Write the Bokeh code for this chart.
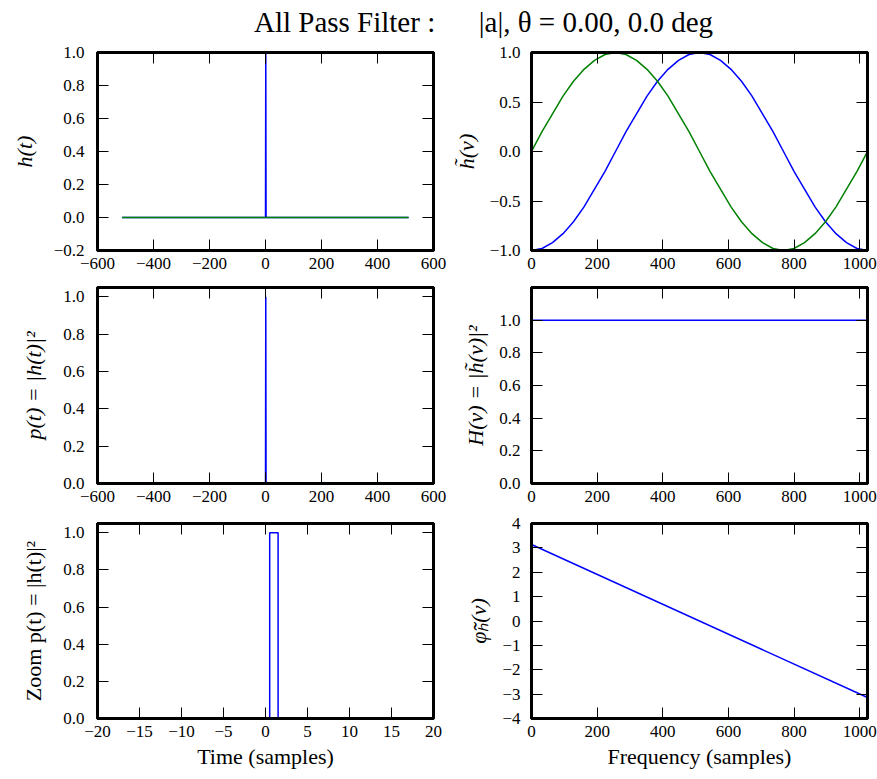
from bokeh.plotting import figure
from bokeh.models import LinearAxis, FixedTicker, CustomJSTickFormatter, Range1d, Label
from bokeh.layouts import column, gridplot
from bokeh.embed import file_html
from bokeh.resources import INLINE

# ---------------- data ----------------
T_SAMPLES = [-512, 0, 1, 2, 511]
H_REAL = [0.0, 0.0, 1.0, 0.0, 0.0]
H_IMAG = [0.0, 0.0, 0.0, 0.0, 0.0]
P_T = [0.0, 0.0, 1.0, 0.0, 0.0]

NU = [0, 32, 64, 96, 128, 160, 192, 224, 256, 288, 320, 352, 384, 416, 448, 480,
      512, 544, 576, 608, 640, 672, 704, 736, 768, 800, 832, 864, 896, 928, 960, 992, 1024]
HNU_REAL = [-1.00, -0.98, -0.92, -0.83, -0.71, -0.56, -0.38, -0.20, 0.00, 0.20, 0.38,
            0.56, 0.71, 0.83, 0.92, 0.98, 1.00, 0.98, 0.92, 0.83, 0.71, 0.56, 0.38,
            0.20, 0.00, -0.20, -0.38, -0.56, -0.71, -0.83, -0.92, -0.98, -1.00]
HNU_IMAG = [0.00, 0.20, 0.38, 0.56, 0.71, 0.83, 0.92, 0.98, 1.00, 0.98, 0.92, 0.83,
            0.71, 0.56, 0.38, 0.20, 0.00, -0.20, -0.38, -0.56, -0.71, -0.83, -0.92,
            -0.98, -1.00, -0.98, -0.92, -0.83, -0.71, -0.56, -0.38, -0.20, 0.00]

NU_ENDS = [0, 1024]
H_POWER = [1.0, 1.0]
PHASE = [3.14, -3.14]

TITLE = "All Pass Filter :\u00a0\u00a0\u00a0\u00a0\u00a0 |a|, \u03b8 = 0.00, 0.0 deg"

X_TICKS_TIME = [-600, -400, -200, 0, 200, 400, 600]
X_LABELS_TIME = ["\u2212600", "\u2212400", "\u2212200", "0", "200", "400", "600"]
X_TICKS_FREQ = [0, 200, 400, 600, 800, 1000]
X_LABELS_FREQ = ["0", "200", "400", "600", "800", "1000"]
X_TICKS_ZOOM = [-20, -15, -10, -5, 0, 5, 10, 15, 20]
X_LABELS_ZOOM = ["\u221220", "\u221215", "\u221210", "\u22125", "0", "5", "10", "15", "20"]

Y_TICKS_HT = [-0.2, 0.0, 0.2, 0.4, 0.6, 0.8, 1.0]
Y_LABELS_HT = ["\u22120.2", "0.0", "0.2", "0.4", "0.6", "0.8", "1.0"]
Y_TICKS_HNU = [-1.0, -0.5, 0.0, 0.5, 1.0]
Y_LABELS_HNU = ["\u22121.0", "\u22120.5", "0.0", "0.5", "1.0"]
Y_TICKS_P = [0.0, 0.2, 0.4, 0.6, 0.8, 1.0]
Y_LABELS_P = ["0.0", "0.2", "0.4", "0.6", "0.8", "1.0"]
Y_TICKS_PH = [-4, -3, -2, -1, 0, 1, 2, 3, 4]
Y_LABELS_PH = ["\u22124", "\u22123", "\u22122", "\u22121", "0", "1", "2", "3", "4"]

FONT = "Liberation Serif"
BLUE = "#0000ff"
GREEN = "#008000"

FMT_CODE = """
let best = 0;
for (let i = 0; i < vals.length; i++) {
  if (Math.abs(vals[i] - tick) < Math.abs(vals[best] - tick)) best = i;
}
return labs[best];
"""


def fmt(vals, labs):
    return CustomJSTickFormatter(args=dict(vals=vals, labs=labs), code=FMT_CODE)


def style_axis(ax, show, label_standoff=8, tick_standoff=8):
    ax.axis_line_color = "black"
    ax.axis_line_width = 3
    ax.major_tick_in = 11
    ax.major_tick_out = 0
    ax.minor_tick_line_color = None
    ax.major_tick_line_color = "black"
    ax.major_tick_line_width = 1
    if show:
        ax.major_label_text_font = FONT
        ax.major_label_text_font_size = "17px"
        ax.major_label_text_color = "black"
        ax.major_label_standoff = tick_standoff
        ax.axis_label_text_font = FONT
        ax.axis_label_text_font_size = "22px"
        ax.axis_label_text_font_style = "normal"
        ax.axis_label_text_color = "black"
        ax.axis_label_standoff = label_standoff
    else:
        ax.major_label_text_font_size = "0px"
        ax.major_label_standoff = 0


def panel(xr, yr, xt, xl, yt, yl, borders, fh, fw, ylabel=None, ylabel_italic=True,
          xlabel=None, ystand=16, ytick_stand=13):
    left, right, top, bottom = borders
    p = figure(frame_width=fw, frame_height=fh,
               x_range=Range1d(*xr), y_range=Range1d(*yr),
               x_axis_type=None, y_axis_type=None,
               min_border_left=left, min_border_right=right,
               min_border_top=top, min_border_bottom=bottom,
               output_backend="svg", toolbar_location=None)
    p.outline_line_color = "black"
    p.outline_line_width = 3
    p.background_fill_color = "white"
    p.border_fill_color = "white"

    bx = LinearAxis(ticker=FixedTicker(ticks=xt), formatter=fmt(xt, xl))
    style_axis(bx, True, label_standoff=4, tick_standoff=7)
    if xlabel:
        bx.axis_label = xlabel
    p.add_layout(bx, "below")
    ax_top = LinearAxis(ticker=FixedTicker(ticks=xt), formatter=fmt(xt, [""] * len(xt)))
    style_axis(ax_top, False)
    p.add_layout(ax_top, "above")

    ly = LinearAxis(ticker=FixedTicker(ticks=yt), formatter=fmt(yt, yl))
    style_axis(ly, True, label_standoff=ystand, tick_standoff=ytick_stand)
    if ylabel:
        ly.axis_label = ylabel
        ly.axis_label_text_font_style = "italic" if ylabel_italic else "normal"
    p.add_layout(ly, "left")
    ry = LinearAxis(ticker=FixedTicker(ticks=yt), formatter=fmt(yt, [""] * len(yt)))
    style_axis(ry, False)
    p.add_layout(ry, "right")
    return p


LB = (97, 14)   # left column: left / right borders
RB = (84, 10)   # right column
FW_L, FW_R = 336, 336

# row 1
p1 = panel((-600, 600), (-0.2, 1.0), X_TICKS_TIME, X_LABELS_TIME, Y_TICKS_HT, Y_LABELS_HT,
           (LB[0], LB[1], 12, 32), 198, FW_L, ylabel="h(t)", ystand=14)
p1.line(T_SAMPLES, H_REAL, line_color=BLUE, line_width=1.5)
p1.line(T_SAMPLES, H_IMAG, line_color=GREEN, line_width=1.5)

p2 = panel((0, 1024), (-1.0, 1.0), X_TICKS_FREQ, X_LABELS_FREQ, Y_TICKS_HNU, Y_LABELS_HNU,
           (RB[0], RB[1], 12, 32), 198, FW_R, ylabel="h\u0303(\u03bd)", ystand=8, ytick_stand=11)
p2.line(NU, HNU_REAL, line_color=BLUE, line_width=1.5)
p2.line(NU, HNU_IMAG, line_color=GREEN, line_width=1.5)

# row 2
p3 = panel((-600, 600), (0.0, 1.05), X_TICKS_TIME, X_LABELS_TIME, Y_TICKS_P, Y_LABELS_P,
           (LB[0], LB[1], 5, 30), 196, FW_L, ylabel="p(t) = |h(t)|\u00b2", ystand=14)
p3.line(T_SAMPLES, P_T, line_color=BLUE, line_width=1.5)

p4 = panel((0, 1024), (0.0, 1.2), X_TICKS_FREQ, X_LABELS_FREQ, Y_TICKS_P, Y_LABELS_P,
           (RB[0], RB[1], 5, 30), 196, FW_R, ylabel="H(\u03bd) = |h\u0303(\u03bd)|\u00b2",
           ystand=8, ytick_stand=11)
p4.line(NU_ENDS, H_POWER, line_color=BLUE, line_width=1.5)

# row 3
p5 = panel((-20, 20), (0.0, 1.05), X_TICKS_ZOOM, X_LABELS_ZOOM, Y_TICKS_P, Y_LABELS_P,
           (LB[0], LB[1], 10, 61), 195, FW_L, ylabel="Zoom p(t) = |h(t)|\u00b2",
           ylabel_italic=False, xlabel="Time (samples)", ystand=14)
p5.step(T_SAMPLES, P_T, mode="center", line_color=BLUE, line_width=1.5)

p6 = panel((0, 1024), (-4, 4), X_TICKS_FREQ, X_LABELS_FREQ, Y_TICKS_PH, Y_LABELS_PH,
           (RB[0], RB[1], 10, 61), 195, FW_R, ylabel="\u03c6\u2095\u0303(\u03bd)",
           xlabel="Frequency (samples)", ystand=8, ytick_stand=11)
p6.line(NU_ENDS, PHASE, line_color=BLUE, line_width=1.5)

# title strip
tf = figure(width=877, height=40, x_range=Range1d(0, 877), y_range=Range1d(0, 40),
            x_axis_type=None, y_axis_type=None,
            min_border_left=0, min_border_right=0, min_border_top=0, min_border_bottom=0,
            output_backend="svg", toolbar_location=None)
tf.outline_line_color = None
tf.add_layout(Label(x=483, y=19, text=TITLE, text_align="center", text_baseline="middle",
                    text_font=FONT, text_font_size="29px", text_color="black"))

grid = gridplot([[p1, p2], [p3, p4], [p5, p6]], toolbar_location=None)
layout = column(tf, grid)

with open("out.html", "w") as f:
    f.write(file_html(layout, INLINE))
